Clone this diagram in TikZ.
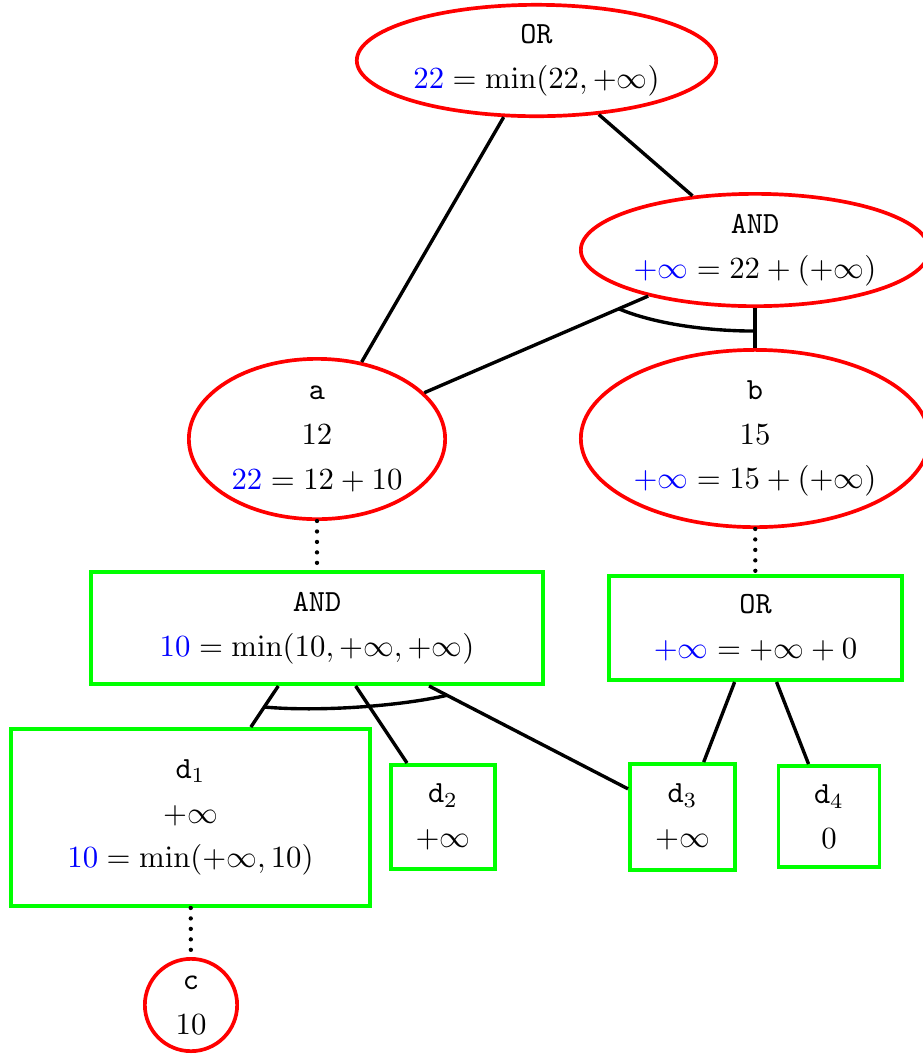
\documentclass[tikz,border=0pt]{standalone}
\usetikzlibrary{shapes.geometric}
\begin{document}
\begin{tikzpicture}[x=0.325pt,y=-0.325pt,
  redell/.style={draw=red,line width=1.2pt,ellipse,inner sep=0pt},
  redcirc/.style={draw=red,line width=1.2pt,circle,inner sep=0pt},
  greenbox/.style={draw=green,line width=1.2pt,rectangle,inner sep=0pt},
  edge/.style={line width=1.1pt},
  dotedge/.style={line width=1.4pt,line cap=round,dash pattern=on 0pt off 3.4pt},
  txt/.style={align=center,inner sep=0pt,font=\fontsize{10}{14.6}\selectfont}]
\useasboundingbox (0,0) rectangle (923,1059);
% shapes
\node[redell,minimum width=116.8pt,minimum height=36.2pt] (ortop) at (536.5,60.5) {};
\node[redell,minimum width=113.2pt,minimum height=36.5pt] (andr) at (755,250) {};
\node[redell,minimum width=83.3pt,minimum height=52.1pt] (a) at (317,439) {};
\node[redell,minimum width=113.2pt,minimum height=57.6pt] (b) at (755,438.5) {};
\node[greenbox,minimum width=147pt,minimum height=36.5pt] (andl) at (317,628) {};
\node[greenbox,minimum width=95.3pt,minimum height=33.9pt] (orr) at (755.5,628) {};
\node[greenbox,minimum width=116.8pt,minimum height=57.6pt] (d1) at (190.5,817.5) {};
\node[greenbox,minimum width=33.9pt,minimum height=33.9pt] (d2) at (443,817) {};
\node[greenbox,minimum width=34.2pt,minimum height=34.5pt] (d3) at (682.5,817) {};
\node[greenbox,minimum width=32.9pt,minimum height=32.9pt] (d4) at (829,816.5) {};
\node[redcirc,minimum size=30pt] (c) at (191,1005) {};
% texts
\node[txt] (ortopT) at (ortop.center) {\texttt{OR}\\ ${\color{blue}22} = \min(22,+\infty)$};
\node[txt] (andrT) at (andr.center) {\texttt{AND}\\ ${\color{blue}+\infty} = 22 + (+\infty)$};
\node[txt] (aT) at (a.center) {\texttt{a}\\ $12$\\ ${\color{blue}22} = 12 + 10$};
\node[txt] (bT) at (b.center) {\texttt{b}\\ $15$\\ ${\color{blue}+\infty} = 15 + (+\infty)$};
\node[txt] (andlT) at (andl.center) {\texttt{AND}\\ ${\color{blue}10} = \min(10,+\infty,+\infty)$};
\node[txt] (orrT) at (orr.center) {\texttt{OR}\\ ${\color{blue}+\infty} = +\infty + 0$};
\node[txt] (d1T) at (d1.center) {\texttt{d}$_1$\\ $+\infty$\\ ${\color{blue}10} = \min(+\infty,10)$};
\node[txt] (d2T) at (d2.center) {\texttt{d}$_2$\\ $+\infty$};
\node[txt] (d3T) at (d3.center) {\texttt{d}$_3$\\ $+\infty$};
\node[txt] (d4T) at (d4.center) {\texttt{d}$_4$\\ $0$};
\node[txt] (cT) at (c.center) {\texttt{c}\\ $10$};
% connectors
\draw[edge] (ortop) -- (a);
\draw[edge] (ortop) -- (andr);
\draw[edge] (andr) -- (a);
\draw[edge] (andr) -- (b);
\draw[dotedge] (a) -- (andl);
\draw[dotedge] (b) -- (orr);
\draw[edge] (andl) -- (d1);
\draw[edge] (andl) -- (d2);
\draw[edge] (andl) -- (d3);
\draw[edge] (orr) -- (d3);
\draw[edge] (orr) -- (d4);
\draw[dotedge] (d1) -- (c);
% AND arcs
\path (andr.center) -- (a.center) coordinate[pos=0.311] (arcR1);
\path (andr.center) -- (b.center) coordinate[pos=0.43] (arcR2);
\draw[edge] (arcR1) .. controls (650,322) and (700,331) .. (arcR2);
\path (andl.center) -- (d1.center) coordinate[pos=0.417] (arcL1);
\path (andl.center) -- (d3.center) coordinate[pos=0.356] (arcL2);
\draw[edge] (arcL1) .. controls (320,712) and (400,706) .. (arcL2);
\end{tikzpicture}
\end{document}
